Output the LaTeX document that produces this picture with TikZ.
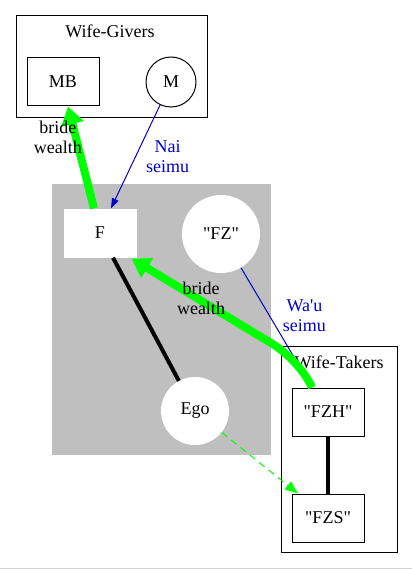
\documentclass[tikz,border=0pt]{standalone}
\usepackage{fontspec}
\setmainfont{Liberation Serif}
\usetikzlibrary{arrows.meta}
\definecolor{clustergray}{rgb}{0.75,0.75,0.75}
\definecolor{seimublue}{rgb}{0,0,0.8}
\definecolor{wealthgreen}{rgb}{0,1,0}
\tikzstyle{box} = [rectangle,draw,line width=1pt,minimum width=72pt,minimum height=48pt,inner sep=0pt]
\tikzstyle{whitebox} = [rectangle,fill=white,minimum width=73pt,minimum height=49pt,inner sep=0pt]
\tikzstyle{person} = [circle,draw,line width=1pt,minimum size=50pt,inner sep=0pt]
\tikzstyle{whiteperson} = [circle,fill=white,inner sep=0pt]
\tikzstyle{cluster} = [draw,line width=1pt]
\tikzstyle{wealth} = [wealthgreen,line width=8pt,-{Triangle[length=18pt,width=22pt]}]
\tikzstyle{seimu} = [seimublue,line width=1pt,-{Triangle[length=10pt,width=7pt]}]
\tikzstyle{gift} = [wealthgreen,line width=1pt,dash pattern=on 7pt off 5pt,-{Triangle[length=13pt,width=10pt]}]
\tikzstyle{kin} = [line width=4pt]
\tikzstyle{label} = [align=center,inner sep=0pt]

\begin{document}
\begin{tikzpicture}[x=1pt,y=-1pt,every node/.style={font=\fontsize{18}{20}\selectfont}]
		\useasboundingbox (0,0) rectangle (412,569);
		\draw[gray!35,line width=1pt] (0,568.5)--(412,568.5);
		
		\fill[clustergray] (52,184) rectangle (271,455);
		\draw[cluster] (16,16) rectangle (207,118);
		\node at (110,31) {Wife-Givers};
		\draw[cluster] (281,346) rectangle (397,552);
		\node at (339,362) {Wife-Takers};
		
		\node [box](mb) at (63,82) {MB};
		\node [person](m) at (171,82) {M};
		\node [whitebox](f) at (100,233) {F};
		\node [whiteperson,minimum size=78pt](fz) at (221,234) {\textquotedbl FZ\textquotedbl};
		\node [whiteperson,minimum size=68pt](ego) at (195,411) {Ego};
		\node [box](fzh) at (328,412) {\textquotedbl FZH\textquotedbl};
		\node [box](fzs) at (328,518) {\textquotedbl FZS\textquotedbl};
		\coordinate (bend) at (266,340);
		
		\draw[kin]([xshift=13pt]f.south)--(ego);
		\draw[kin](fzh)--(fzs);
		\draw[seimu](m)--node[right=10pt,label,text=seimublue]{Nai\\seimu}([xshift=11pt]f.north);
		\draw[seimu](fz)--node[pos=.4,right=13pt,label,text=seimublue]{Wa\textquotesingle u\\seimu}([xshift=-16pt]fzh.north);
		\draw[gift](ego)--([xshift=-30pt]fzs.north);
		\draw[wealth]([xshift=-6pt]f.north)--node[pos=.7,left=-10pt,label,text=black]{bride\\wealth}([xshift=5pt]mb.south);
		\draw[wealth]([xshift=-16pt]fzh.north) .. controls (305,372) and (288,352) .. (bend)--([xshift=-5pt,yshift=-1pt]f.south east);
		\node [label] at (201,298) {bride\\wealth};
		\end{tikzpicture}
\end{document}
